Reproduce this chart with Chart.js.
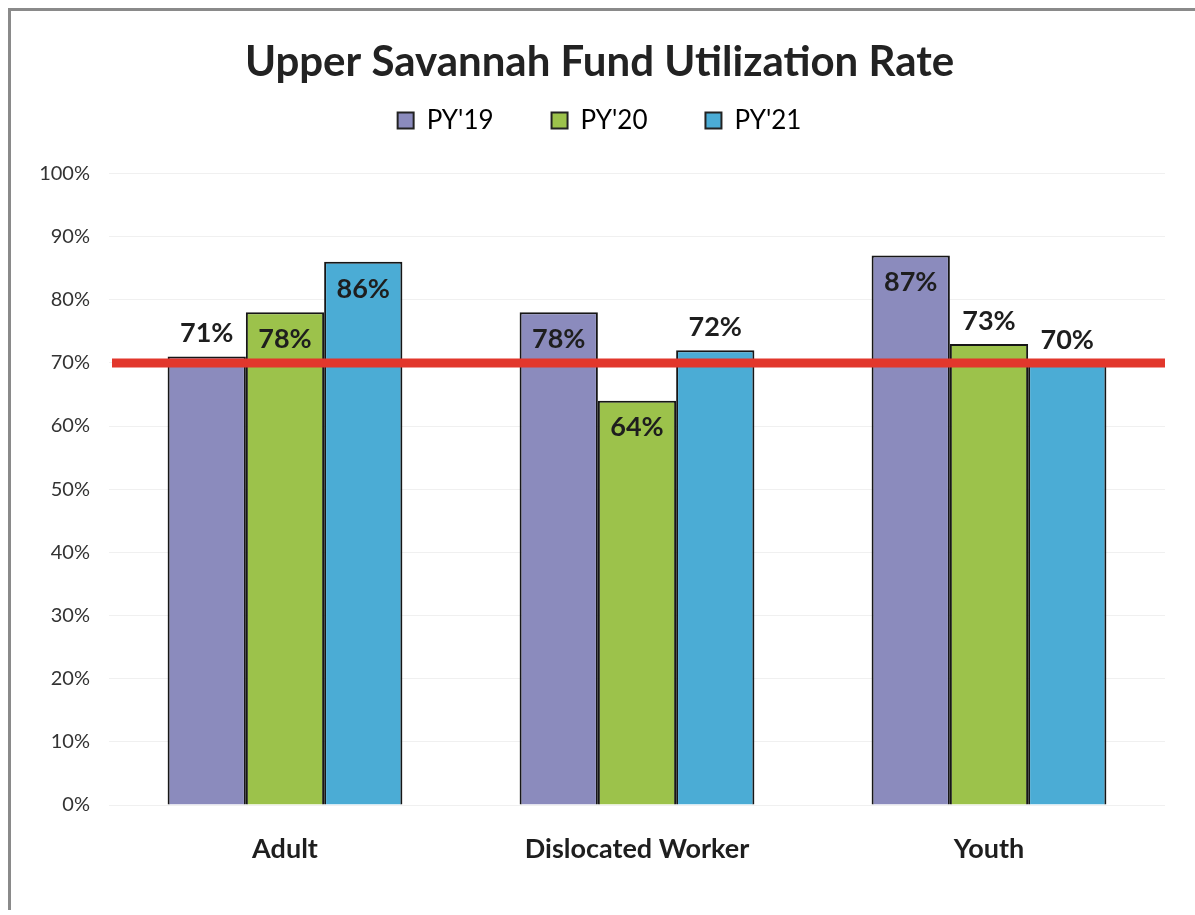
<!DOCTYPE html>
<html>
<head>
<meta charset="utf-8">
<script src="https://cdn.jsdelivr.net/npm/chart.js@4"></script>
<style>
  body { margin: 0; background: #fff; }
  #frame { position: absolute; left: 8px; top: 8px; width: 1200px; height: 902px;
           border-left: 3px solid #8a8a8a; border-top: 3px solid #8a8a8a; box-sizing: border-box; }
  #wrap { position: absolute; left: 0; top: 0; width: 1195px; height: 915px; }
</style>
</head>
<body>
<div id="frame"></div>
<div id="wrap"><canvas id="chart"></canvas></div>
<script>
// chart data
const categories = ['Adult', 'Dislocated Worker', 'Youth'];
const seriesNames = ["PY'19", "PY'20", "PY'21"];
const py19 = [71, 78, 87];
const py20 = [78, 64, 73];
const py21 = [86, 72, 70];
const targetRate = 70;
const yTicks = [0, 10, 20, 30, 40, 50, 60, 70, 80, 90, 100];

const colors = ['#8b8bbd', '#9cc24b', '#4bacd5'];
// which value labels sit inside the bar top (per series, per category)
const labelInside = [[false, true, true], [true, true, false], [true, false, false]];

const FONT = 'Lato, "Open Sans", sans-serif';

// draws the red 70% reference line across the plot area
const targetLine = {
  id: 'targetLine',
  afterDatasetsDraw(chart) {
    const { ctx, chartArea, scales } = chart;
    const y = scales.y.getPixelForValue(targetRate);
    ctx.save();
    ctx.strokeStyle = '#e2372c';
    ctx.lineWidth = 9;
    ctx.beginPath();
    ctx.moveTo(chartArea.left + 3, y);
    ctx.lineTo(chartArea.right, y);
    ctx.stroke();
    ctx.restore();
  }
};

// value labels on bars
const valueLabels = {
  id: 'valueLabels',
  afterDraw(chart) {
    const { ctx } = chart;
    ctx.save();
    ctx.font = 'bold 27px ' + FONT;
    ctx.fillStyle = '#1e1e1e';
    ctx.textAlign = 'center';
    ctx.textBaseline = 'middle';
    chart.data.datasets.forEach((ds, di) => {
      chart.getDatasetMeta(di).data.forEach((bar, i) => {
        const inside = labelInside[di][i];
        const y = inside ? bar.y + 27 : bar.y - 23;
        ctx.fillText(ds.data[i] + '%', bar.x, y);
      });
    });
    ctx.restore();
  }
};

new Chart(document.getElementById('chart'), {
  type: 'bar',
  data: {
    labels: categories,
    datasets: [py19, py20, py21].map((vals, i) => ({
      label: seriesNames[i],
      data: vals,
      backgroundColor: colors[i],
      borderColor: '#161616',
      borderWidth: 2,
      categoryPercentage: 0.667,
      barPercentage: 1.0
    }))
  },
  options: {
    responsive: true,
    maintainAspectRatio: false,
    animation: false,
    layout: { padding: { top: 37, right: 30, left: 34, bottom: 0 } },
    plugins: {
      title: {
        display: true,
        text: 'Upper Savannah Fund Utilization Rate',
        color: '#222',
        font: { family: FONT, size: 42, weight: 'bold' },
        padding: { top: 0, bottom: -38 }
      },
      // empty spacer between legend and plot
      subtitle: {
        display: true,
        text: '',
        weight: 500,
        font: { size: 10, lineHeight: 1 },
        padding: { top: 0, bottom: 20 }
      },
      legend: {
        display: true,
        labels: {
          color: '#222',
          font: { family: FONT, size: 26 },
          boxWidth: 16,
          boxHeight: 16,
          padding: 58,
          generateLabels(chart) {
            return chart.data.datasets.map((ds, i) => ({
              text: ds.label,
              fillStyle: ds.backgroundColor,
              strokeStyle: '#222',
              lineWidth: 2,
              datasetIndex: i
            }));
          }
        }
      },
      tooltip: { enabled: false }
    },
    scales: {
      x: {
        grid: { display: false },
        border: { display: false },
        ticks: { color: '#1e1e1e', font: { family: FONT, size: 27, weight: 'bold' }, padding: 20 },
        afterFit(scale) { scale.height = 110; }
      },
      y: {
        min: 0,
        max: 100,
        afterBuildTicks(scale) { scale.ticks = yTicks.map(v => ({ value: v })); },
        grid: { color: '#f0f0f0', drawTicks: false },
        border: { display: false },
        ticks: {
          color: '#333',
          font: { family: FONT, size: 20 },
          padding: 19,
          callback: v => v + '%'
        },
        afterFit(scale) { scale.width = 75; }
      }
    }
  },
  plugins: [targetLine, valueLabels]
});
</script>
</body>
</html>
